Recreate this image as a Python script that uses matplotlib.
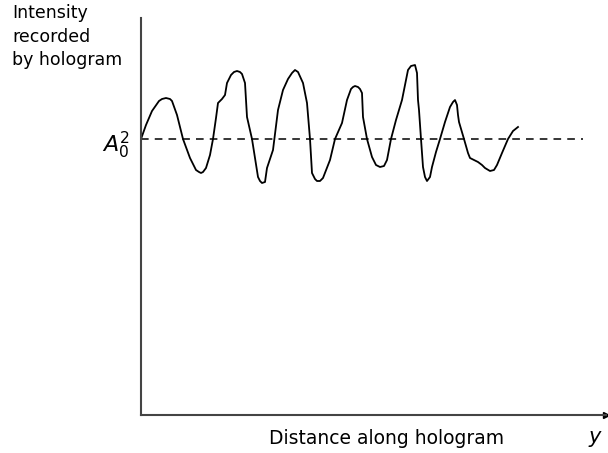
import numpy as np
import matplotlib
matplotlib.use('Agg')
import matplotlib.pyplot as plt

# intensity trace (distance, intensity), arbitrary units
distance = [0, 5, 11, 18, 21, 25, 29, 31, 36, 42, 49, 55,
            58, 60, 62, 65, 69, 72, 75, 77, 81, 84, 86, 90,
            93, 96, 99, 101, 104, 106, 111, 117, 119, 121, 124, 126, 132,
            137, 142, 147, 151, 154, 157, 162, 166, 169, 171, 174, 176, 179, 182,
            189, 194, 201, 206, 210, 212, 214, 217, 219, 221, 222, 226,
            231, 235, 239, 243, 246, 250, 255, 261, 265, 267,
            270, 274, 276, 277, 278, 280, 282, 284, 286, 289,
            291, 295, 299, 304, 309, 312, 314, 316, 317, 318, 323,
            327, 329, 333, 337, 341, 344, 349, 353, 356, 361,
            367, 372, 377]
intensity = [276, 290, 304, 314, 316, 317, 316, 314, 300, 276, 257, 245,
             243, 242, 243, 247, 260, 276, 297, 312, 316, 320, 332, 340,
             343, 344, 343, 341, 332, 298, 276, 238, 234, 232, 233, 247, 265,
             305, 325, 336, 342, 345, 343, 332, 312, 276, 242, 236, 234, 234, 237,
             255, 276, 292, 315, 326, 328, 329, 328, 326, 322, 298, 276,
             258, 250, 248, 249, 255, 276, 295, 315, 335, 345,
             349, 350, 342, 315, 305, 276, 248, 238, 234, 238,
             248, 263, 276, 293, 308, 313, 315, 310, 300, 293, 276,
             262, 257, 255, 253, 250, 247, 244, 245, 250, 262,
             276, 284, 288]
a0_sq = 276        # level of the dashed reference line
dash_end = 442     # where the dashed line stops

fig = plt.figure(figsize=(6.08, 4.53), dpi=100)
ax = fig.add_axes([141 / 608, 38 / 453, 465 / 608, 397 / 453])
ax.set_xlim(0, 465)
ax.set_ylim(0, 397)

ax.plot(distance, intensity, color='black', lw=1.3, solid_joinstyle='round')
ax.plot([0, dash_end], [a0_sq, a0_sq], color='black', lw=1.1, ls=(0, (5, 4)))

for side in ['top', 'right']:
    ax.spines[side].set_visible(False)
for side in ['left', 'bottom']:
    ax.spines[side].set_color('#444444')
    ax.spines[side].set_linewidth(1.5)
ax.set_xticks([])
ax.set_yticks([])
# arrow head on the distance axis
ax.plot(1, 0, marker='>', color='black', ms=5, transform=ax.get_yaxis_transform(),
        clip_on=False)

fig.text(12 / 608, 1 - 4 / 453, 'Intensity\nrecorded\nby hologram', fontsize=12.5,
         ha='left', va='top', linespacing=1.4, family='DejaVu Sans')
ax.text(-11, a0_sq - 13, r'$A_0^2$', fontsize=16, ha='right', va='baseline')
fig.text(387 / 608, 1 - 444 / 453, 'Distance along hologram', fontsize=13.5,
         ha='center', va='baseline', family='DejaVu Sans')
fig.text(596 / 608, 1 - 443 / 453, r'$y$', fontsize=15, ha='center', va='baseline')

plt.savefig('out.png', dpi=100)
plt.close()
